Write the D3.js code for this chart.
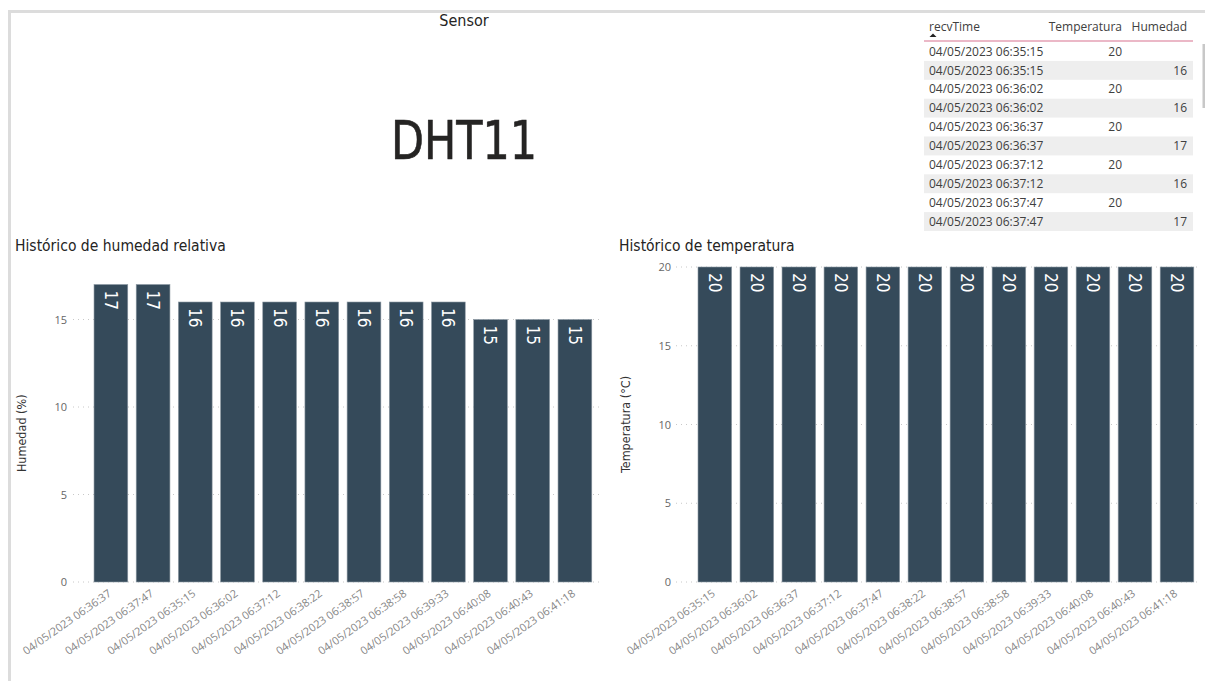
<!DOCTYPE html>
<html>
<head>
<meta charset="utf-8">
<script src="https://cdn.jsdelivr.net/npm/d3@7"></script>
<style>
  html, body { margin: 0; padding: 0; background: #fff; }
  svg { display: block; }
  .title { font-family: "DejaVu Sans Condensed", "Roboto", sans-serif; fill: #252423; }
  .tick-y { font-family: "Open Sans", "Noto Sans", sans-serif; font-size: 11px; fill: #666; }
  .tick-x { font-family: "Open Sans", "Noto Sans", sans-serif; font-size: 11px; fill: #858585; }
  .axis-title { font-family: "DejaVu Sans Condensed", "Roboto", sans-serif; font-size: 12.5px; fill: #333; }
  .bar-label { font-family: "DejaVu Sans Condensed", "Roboto", sans-serif; font-size: 17px; fill: #fff; }
  .cell { font-family: "Open Sans", "Noto Sans", sans-serif; font-size: 12px; fill: #404040; }
</style>
</head>
<body>
<svg id="dash" width="1205" height="681"></svg>
<script>
// Humidity history (category order as shown on the axis)
const humTimes = [
  "04/05/2023 06:36:37", "04/05/2023 06:37:47", "04/05/2023 06:35:15",
  "04/05/2023 06:36:02", "04/05/2023 06:37:12", "04/05/2023 06:38:22",
  "04/05/2023 06:38:57", "04/05/2023 06:38:58", "04/05/2023 06:39:33",
  "04/05/2023 06:40:08", "04/05/2023 06:40:43", "04/05/2023 06:41:18"
];
const humValues = [17, 17, 16, 16, 16, 16, 16, 16, 16, 15, 15, 15];
const humTicks = [0, 5, 10, 15];

// Temperature history
const tempTimes = [
  "04/05/2023 06:35:15", "04/05/2023 06:36:02", "04/05/2023 06:36:37",
  "04/05/2023 06:37:12", "04/05/2023 06:37:47", "04/05/2023 06:38:22",
  "04/05/2023 06:38:57", "04/05/2023 06:38:58", "04/05/2023 06:39:33",
  "04/05/2023 06:40:08", "04/05/2023 06:40:43", "04/05/2023 06:41:18"
];
const tempValues = [20, 20, 20, 20, 20, 20, 20, 20, 20, 20, 20, 20];
const tempTicks = [0, 5, 10, 15, 20];

// Raw readings table
const tableColumns = ["recvTime", "Temperatura", "Humedad"];
const tableTimes = [
  "04/05/2023 06:35:15", "04/05/2023 06:35:15",
  "04/05/2023 06:36:02", "04/05/2023 06:36:02",
  "04/05/2023 06:36:37", "04/05/2023 06:36:37",
  "04/05/2023 06:37:12", "04/05/2023 06:37:12",
  "04/05/2023 06:37:47", "04/05/2023 06:37:47"
];
const tableTemp = [20, null, 20, null, 20, null, 20, null, 20, null];
const tableHum = [null, 16, null, 16, null, 17, null, 16, null, 17];

const BAR = "#354a5a";
const svg = d3.select("#dash");

// Page frame
svg.append("rect").attr("x", 8).attr("y", 10).attr("width", 1205).attr("height", 3).attr("fill", "#dcdcdc");
svg.append("rect").attr("x", 8).attr("y", 10).attr("width", 3).attr("height", 681).attr("fill", "#dcdcdc");

// Card
svg.append("text").attr("class", "title").attr("x", 464).attr("y", 26)
  .attr("text-anchor", "middle").attr("font-size", 16).text("Sensor");
svg.append("text").attr("class", "title").attr("x", 391).attr("y", 159)
  .attr("font-size", 53).attr("textLength", 146).attr("lengthAdjust", "spacingAndGlyphs")
  .attr("stroke", "#252423").attr("stroke-width", 0.6)
  .text("DHT11");

// Table
(function drawTable() {
  const g = svg.append("g");
  const x0 = 924, x1 = 1193, top = 42, rowH = 18.9;
  const colX = { recvTime: 929, Temperatura: 1122, Humedad: 1187 };
  const rows = d3.range(tableTimes.length);
  const ry = d3.scaleLinear().domain([0, rows.length]).range([top, top + rows.length * rowH]);

  g.selectAll("rect.band").data(rows.filter(i => i % 2 === 1)).join("rect")
    .attr("x", x0).attr("y", i => ry(i)).attr("width", x1 - x0).attr("height", rowH)
    .attr("fill", "#eeeeee");

  tableColumns.forEach(c => {
    g.append("text").attr("class", "cell").attr("x", colX[c]).attr("y", 31)
      .attr("text-anchor", c === "recvTime" ? "start" : "end").attr("fill", "#333").text(c);
  });
  g.append("path").attr("d", "M929.5,37 L933,33.5 L936.5,37 Z").attr("fill", "#222");
  g.append("line").attr("x1", x0).attr("x2", x1).attr("y1", 41).attr("y2", 41)
    .attr("stroke", "#e4a1b5").attr("stroke-width", 1.5);

  rows.forEach(i => {
    const y = ry(i) + rowH / 2 + 4.2;
    g.append("text").attr("class", "cell").attr("x", colX.recvTime).attr("y", y).text(tableTimes[i]);
    if (tableTemp[i] != null)
      g.append("text").attr("class", "cell").attr("x", colX.Temperatura).attr("y", y)
        .attr("text-anchor", "end").text(tableTemp[i]);
    if (tableHum[i] != null)
      g.append("text").attr("class", "cell").attr("x", colX.Humedad).attr("y", y)
        .attr("text-anchor", "end").text(tableHum[i]);
  });
  // scrollbar
  g.append("rect").attr("x", 1202.5).attr("y", 44).attr("width", 2.5).attr("height", 64).attr("fill", "#c8c8c8");
})();

function barChart(opts) {
  const g = svg.append("g");
  g.append("text").attr("class", "title").attr("x", opts.titleX).attr("y", 251)
    .attr("font-size", 15.5).text(opts.title);

  const x = d3.scaleBand().domain(opts.cats).range(opts.xRange)
    .paddingInner(0.2).paddingOuter(0.1);
  const y = d3.scaleLinear().domain(opts.yDomain).range(opts.yRange);

  // dotted gridlines + tick labels
  g.selectAll("line.grid").data(opts.ticks).join("line")
    .attr("x1", opts.gridX[0]).attr("x2", opts.gridX[1])
    .attr("y1", d => y(d)).attr("y2", d => y(d))
    .attr("stroke", "#c8c8c8").attr("stroke-width", 1).attr("stroke-dasharray", "1,4");
  g.selectAll("text.tick-y").data(opts.ticks).join("text")
    .attr("class", "tick-y").attr("x", opts.tickX).attr("y", d => y(d) + 4)
    .attr("text-anchor", "end").text(d => d);

  g.append("text").attr("class", "axis-title")
    .attr("transform", `translate(${opts.axisTitleX},${(opts.yRange[0] + opts.yRange[1]) / 2}) rotate(-90)`)
    .attr("text-anchor", "middle").text(opts.axisTitle);

  g.selectAll("rect.bar").data(opts.values).join("rect")
    .attr("x", (d, i) => x(opts.cats[i])).attr("width", x.bandwidth())
    .attr("y", d => y(d)).attr("height", d => y(0) - y(d))
    .attr("fill", BAR).attr("stroke", "#8d99a3").attr("stroke-width", 0.6);

  g.selectAll("text.bar-label").data(opts.values).join("text")
    .attr("class", "bar-label")
    .attr("transform", (d, i) => `translate(${x(opts.cats[i]) + x.bandwidth() / 2},${y(d) + 6}) rotate(90)`)
    .attr("dy", "0.36em").text(d => d);

  g.selectAll("text.tick-x").data(opts.cats).join("text")
    .attr("class", "tick-x")
    .attr("transform", d => `translate(${x(d) + x.bandwidth() / 2 - 1},${y(0) + 10}) rotate(-35)`)
    .attr("text-anchor", "end").attr("dy", "0.35em").text(d => d);
}

barChart({
  title: "Histórico de humedad relativa", titleX: 15,
  cats: humTimes, values: humValues, ticks: humTicks,
  xRange: [89.8, 596], yDomain: [0, 17], yRange: [582, 284.5],
  gridX: [73, 602], tickX: 67, axisTitle: "Humedad (%)", axisTitleX: 26
});

barChart({
  title: "Histórico de temperatura", titleX: 619,
  cats: tempTimes, values: tempValues, ticks: tempTicks,
  xRange: [693.8, 1198], yDomain: [0, 20], yRange: [582, 267],
  gridX: [676, 1200], tickX: 671, axisTitle: "Temperatura (°C)", axisTitleX: 630
});
</script>
</body>
</html>
